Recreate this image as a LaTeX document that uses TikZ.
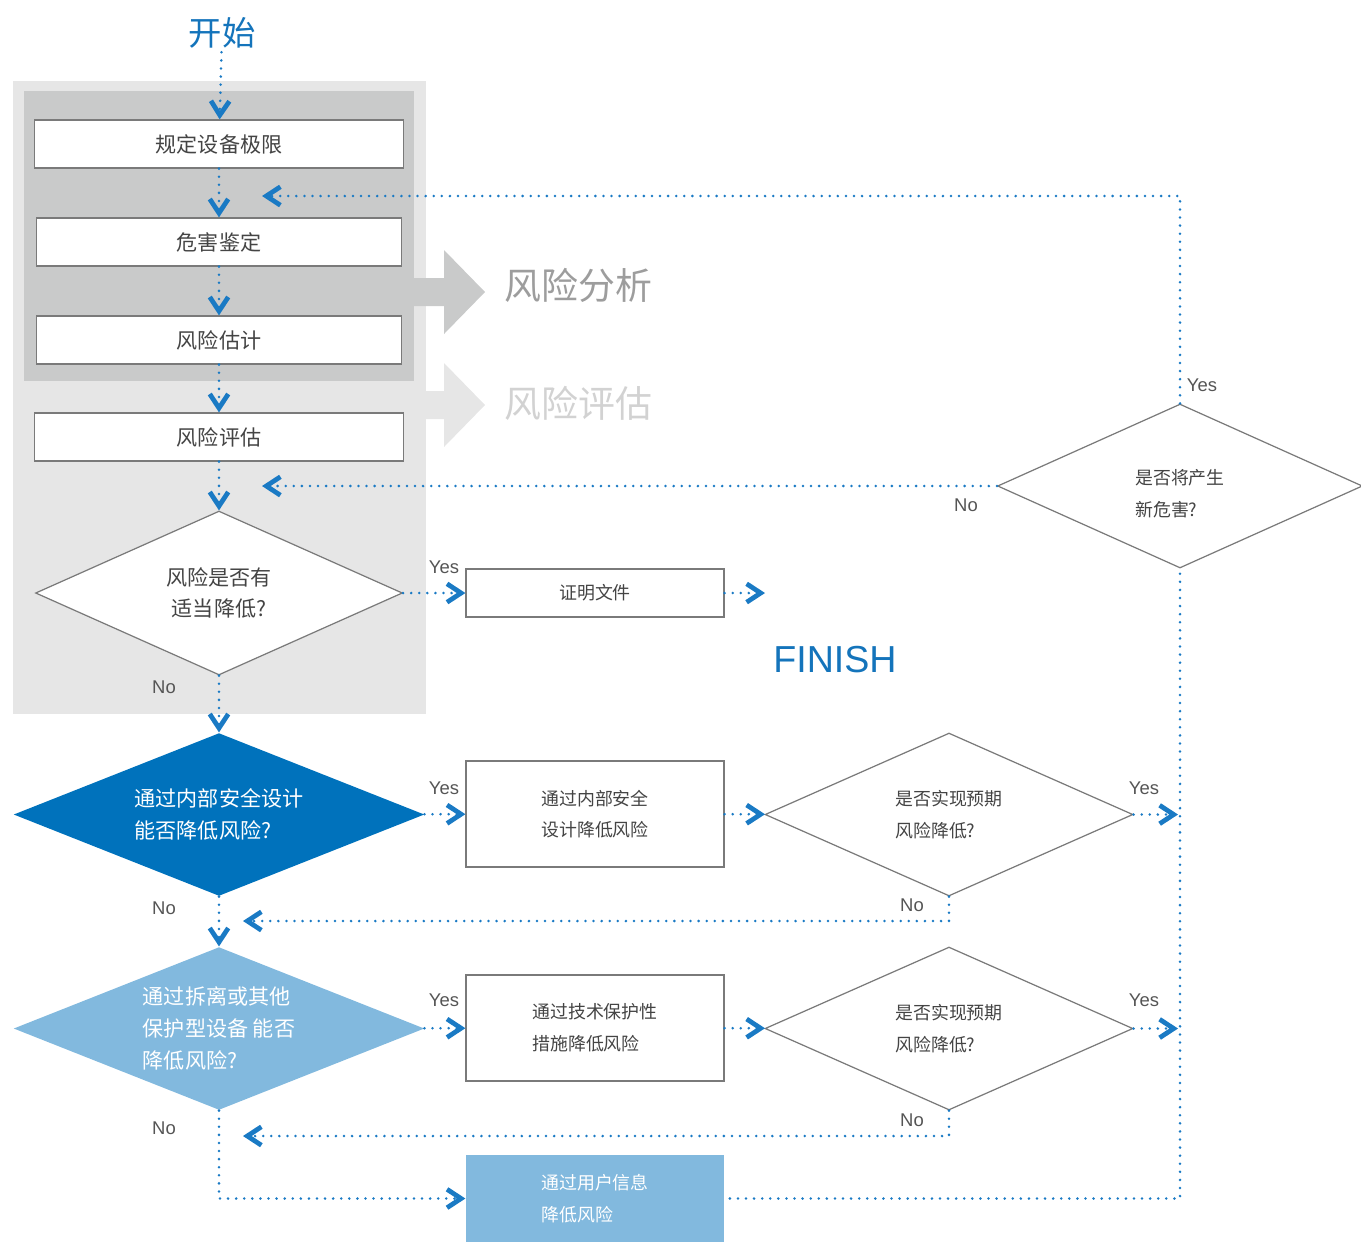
\documentclass[tikz,border=0pt]{standalone}
\usepackage{fontspec}
\setmainfont{Liberation Sans}
\newfontfamily\cjk{Noto Sans CJK SC}
\usetikzlibrary{shapes.geometric,arrows.meta}
\definecolor{startblue}{HTML}{1474BB}
\definecolor{lineblue}{HTML}{1A7AC4}
\definecolor{darkblue}{HTML}{0072BC}
\definecolor{lightblue}{HTML}{82B9DE}
\definecolor{panellight}{HTML}{E6E6E6}
\definecolor{paneldark}{HTML}{C9CACA}
\definecolor{anagray}{HTML}{9D9D9D}
\definecolor{evalgray}{HTML}{D2D2D2}
\definecolor{boxgray}{HTML}{7A7A7A}
\definecolor{txtgray}{HTML}{444444}
\definecolor{lblgray}{HTML}{555555}
\tikzset{
  box/.style={draw=boxgray, line width=0.7pt, fill=white, inner sep=0pt, text=txtgray, align=left},
  dia/.style={diamond, draw=boxgray, line width=0.7pt, fill=white, inner sep=0pt, text=txtgray, align=left},
  bigtxt/.style={font=\cjk\fontsize{12}{18}\selectfont},
  smalltxt/.style={font=\cjk\fontsize{10.2}{18}\selectfont},
  flowline/.style={draw=lineblue, line width=1.6pt, dash pattern=on 0pt off 4.6pt, line cap=round},
  flow/.style={flowline, -{Straight Barb[length=8pt,width=10.5pt,line width=2.7pt]}},
  lbl/.style={font=\fontsize{10.5}{12}\selectfont, text=lblgray, inner sep=0pt},
}
\begin{document}
\begin{tikzpicture}[x=0.02cm,y=-0.02cm]
\useasboundingbox (0,0) rectangle (1361,1242);
% panels
\fill[panellight] (13,81) rectangle (426,714);
\fill[paneldark] (24,91) rectangle (414,381);
\fill[paneldark] (414,278) -- (444,278) -- (444,250) -- (485,292) -- (444,334) -- (444,306) -- (414,306) -- cycle;
\fill[panellight] (426,391) -- (444,391) -- (444,363) -- (485,405) -- (444,447) -- (444,419) -- (426,419) -- cycle;
\node[anchor=west, text=anagray, font=\cjk\fontsize{21}{21}\selectfont, inner sep=0pt] (ra) at (504,285) {风险分析};
\node[anchor=west, text=evalgray, font=\cjk\fontsize{21}{21}\selectfont, inner sep=0pt] (re) at (504,403) {风险评估};
% start / finish
\node[text=startblue, font=\cjk\fontsize{19}{19}\selectfont, inner sep=2pt] (start) at (222,33) {开始};
\node[text=startblue, font=\fontsize{21.4}{22}\selectfont, inner sep=0pt] (finish) at (835,660) {FINISH};
% left column
\node[box, bigtxt, minimum width=7.38cm, minimum height=0.96cm] (b1) at (219,144) {规定设备极限};
\node[box, bigtxt, minimum width=7.30cm, minimum height=0.96cm] (b2) at (219,242) {危害鉴定};
\node[box, bigtxt, minimum width=7.30cm, minimum height=0.96cm] (b3) at (219,340) {风险估计};
\node[box, bigtxt, minimum width=7.38cm, minimum height=0.96cm] (b4) at (219,437) {风险评估};
\node[dia, bigtxt, align=center, minimum width=7.34cm, minimum height=3.28cm, shape aspect=2.24] (d1) at (219,593) {风险是否有\\适当降低?};
\node[dia, bigtxt, draw=none, fill=darkblue, text=white, minimum width=8.22cm, minimum height=3.26cm, shape aspect=2.52] (d2) at (219,814.5) {通过内部安全设计\\能否降低风险?};
\node[dia, bigtxt, draw=none, fill=lightblue, text=white, minimum width=8.22cm, minimum height=3.26cm, shape aspect=2.52] (d4) at (219,1028.5) {通过拆离或其他\\保护型设备 能否\\降低风险?};
% middle column
\node[box, smalltxt, minimum width=5.16cm, minimum height=0.96cm] (bc) at (595,593) {证明文件};
\node[box, smalltxt, minimum width=5.16cm, minimum height=2.12cm] (bi) at (595,814) {通过内部安全\\设计降低风险};
\node[box, smalltxt, minimum width=5.16cm, minimum height=2.12cm] (bt) at (595,1028) {通过技术保护性\\措施降低风险};
\node[box, smalltxt, draw=none, fill=lightblue, text=white, minimum width=5.16cm, minimum height=1.74cm] (bu) at (595,1198.5) {通过用户信息\\降低风险};
% right diamonds
\node[dia, smalltxt, minimum width=7.36cm, minimum height=3.26cm, shape aspect=2.26] (d3) at (949,814.5) {是否实现预期\\风险降低?};
\node[dia, smalltxt, minimum width=7.36cm, minimum height=3.26cm, shape aspect=2.26] (d5) at (949,1028.5) {是否实现预期\\风险降低?};
\node[dia, minimum width=7.30cm, minimum height=3.28cm, shape aspect=2.23,
      label={[smalltxt, text=txtgray, align=left, inner sep=0pt, yshift=-0.16cm]center:{是否将产生\\新危害?}}] (d6) at (1180,486) {};
% free ends
\coordinate (fin) at (765,593);
\coordinate (r1) at (1178,814.5);
\coordinate (r2) at (1178,1028.5);
\coordinate (l1) at (243,921);
\coordinate (l2) at (243,1136);
\coordinate (t1) at (262,196);
\coordinate (t2) at (262,486);
% connectors
\draw[flow] (start) -- (b1);
\draw[flow] (b1) -- (b2);
\draw[flow] (b2) -- (b3);
\draw[flow] (b3) -- (b4);
\draw[flow] (b4) -- (d1);
\draw[flow] (d1) -- (d2);
\draw[flow] (d1) -- (bc);
\draw[flow] (bc) -- (fin);
\draw[flow] (d2) -- (bi);
\draw[flow] (bi) -- (d3);
\draw[flow] (d3) -- (r1);
\draw[flow] (d3.south) |- (l1);
\draw[flow] (d2) -- (d4);
\draw[flow] (d4) -- (bt);
\draw[flow] (bt) -- (d5);
\draw[flow] (d5) -- (r2);
\draw[flow] (d5.south) |- (l2);
\draw[flow] (d4.south) |- (bu.west);
\draw[flowline, shorten <=3pt] (bu.east) -| (d6.south);
\draw[flow] (d6.north) |- (t1);
\draw[flow] (d6.west) -- (t2);
% labels
\node[lbl] at (444,567) {Yes};
\node[lbl] at (444,788) {Yes};
\node[lbl] at (444,1000) {Yes};
\node[lbl] at (1144,788) {Yes};
\node[lbl] at (1144,1000) {Yes};
\node[lbl] at (1202,385) {Yes};
\node[lbl] at (164,687) {No};
\node[lbl] at (164,908) {No};
\node[lbl] at (164,1128) {No};
\node[lbl] at (912,905) {No};
\node[lbl] at (912,1120) {No};
\node[lbl] at (966,505) {No};
\end{tikzpicture}
\end{document}
